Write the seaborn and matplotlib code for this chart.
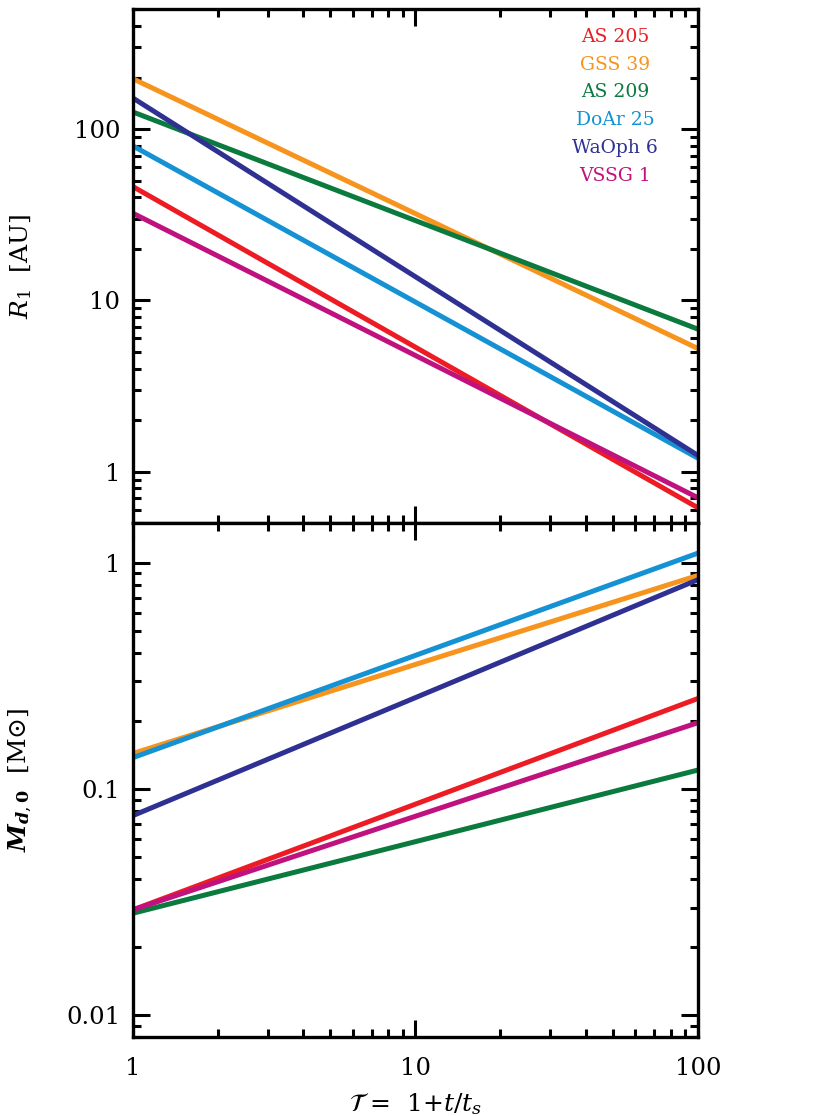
import numpy as np
import pandas as pd
import matplotlib
matplotlib.use("Agg")
import matplotlib.pyplot as plt
from matplotlib.ticker import LogLocator, FuncFormatter, NullFormatter
import seaborn as sns

# ---- data (values read at T = 1 and T = 100; lines are straight in log-log) ----
stars = ["AS 205", "GSS 39", "AS 209", "DoAr 25", "WaOph 6", "VSSG 1"]
colors = ["#ED1C24", "#F7941D", "#0B7A3E", "#1592D3", "#2E3192", "#C0127F"]
T_ends = [1, 100]
R1_start = [46.2, 197.0, 126.0, 79.8, 152.0, 32.3]
R1_end = [0.616, 5.24, 6.8, 1.20, 1.245, 0.705]
Md_start = [0.0293, 0.144, 0.0283, 0.138, 0.0765, 0.0293]
Md_end = [0.252, 0.882, 0.1216, 1.107, 0.845, 0.197]

rows = []
for i, s in enumerate(stars):
    rows.append(dict(star=s, T=T_ends[0], R1=R1_start[i], Md=Md_start[i]))
    rows.append(dict(star=s, T=T_ends[1], R1=R1_end[i], Md=Md_end[i]))
df = pd.DataFrame(rows)
palette = dict(zip(stars, colors))

sns.set_style("ticks")
plt.rcParams["font.family"] = ["DejaVu Serif"]
plt.rcParams["mathtext.fontset"] = "dejavuserif"
for key in ["text.color", "axes.labelcolor", "xtick.color", "ytick.color", "axes.edgecolor"]:
    plt.rcParams[key] = "black"

fig = plt.figure(figsize=(8.3, 11.16), dpi=100)
ax1 = fig.add_axes([0.1602, 0.5311, 0.6807, 0.4604])
ax2 = fig.add_axes([0.1602, 0.0705, 0.6807, 0.4606])

sns.lineplot(data=df, x="T", y="R1", hue="star", palette=palette, hue_order=stars,
             ax=ax1, legend=False, linewidth=3.6, estimator=None, sort=False)
sns.lineplot(data=df, x="T", y="Md", hue="star", palette=palette, hue_order=stars,
             ax=ax2, legend=False, linewidth=3.6, estimator=None, sort=False)

fmt = FuncFormatter(lambda v, _: f"{v:g}")
for ax in (ax1, ax2):
    ax.set_xscale("log")
    ax.set_yscale("log")
    ax.set_xlim(1, 100)
    ax.xaxis.set_major_locator(LogLocator(base=10))
    ax.xaxis.set_minor_locator(LogLocator(base=10, subs=np.arange(2, 10)))
    ax.yaxis.set_major_locator(LogLocator(base=10))
    ax.yaxis.set_minor_locator(LogLocator(base=10, subs=np.arange(2, 10)))
    ax.yaxis.set_major_formatter(fmt)
    ax.yaxis.set_minor_formatter(NullFormatter())
    ax.xaxis.set_minor_formatter(NullFormatter())
    ax.tick_params(which="both", direction="in", top=True, right=True,
                   width=2.2, color="black", labelcolor="black")
    ax.tick_params(which="major", length=12, labelsize=17.5, pad=9)
    ax.tick_params(which="minor", length=6)
    for sp in ax.spines.values():
        sp.set_linewidth(2.4)
        sp.set_color("black")
    ax.grid(False)

ax1.set_ylim(0.5, 500)
ax2.set_ylim(0.008, 1.5)
ax1.xaxis.set_major_formatter(NullFormatter())
ax1.set_xlabel("")
ax2.xaxis.set_major_formatter(fmt)
ax2.tick_params(axis="x", which="major", pad=14)

ax1.set_ylabel(r"$R_1$  [AU]", fontsize=18, color="black")
ax2.set_ylabel(r"$\boldsymbol{M}_{\boldsymbol{d},\mathbf{0}}$  [M$\odot$]", fontsize=18, color="black")
ax1.yaxis.set_label_coords(-0.175, 0.5)
ax2.yaxis.set_label_coords(-0.175, 0.5)
ax2.set_xlabel(r"$\mathcal{T}$ =  1+$t/t_s$", fontsize=18, labelpad=8, color="black")

# coloured text legend
for i, (s, c) in enumerate(zip(stars, colors)):
    ax1.text(0.853, 0.947 - i * 0.0541, s, color=c, fontsize=13.5,
             ha="center", va="center", transform=ax1.transAxes)

fig.savefig("out.png", dpi=100)
